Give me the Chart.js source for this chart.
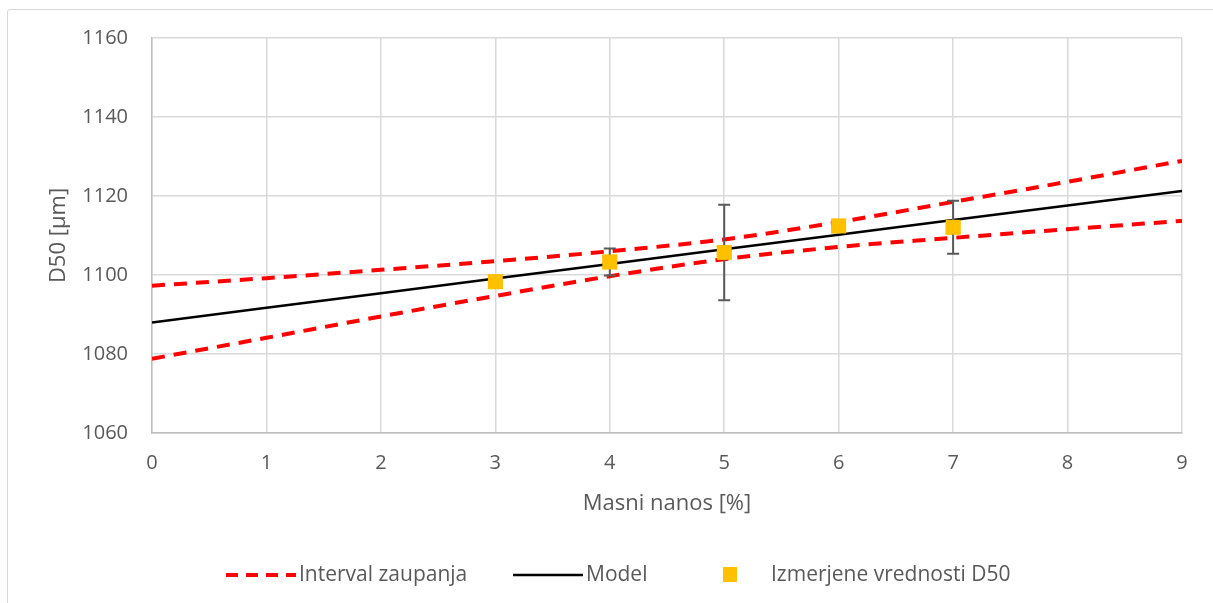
<!DOCTYPE html>
<html>
<head>
<meta charset="utf-8">
<script src="https://cdn.jsdelivr.net/npm/chart.js@4/dist/chart.umd.min.js"></script>
<style>
  html, body { margin: 0; padding: 0; background: #fff; }
  #wrap { position: relative; width: 1213px; height: 603px; }
  #frame { position: absolute; left: 7px; top: 9px; width: 1220px; height: 620px;
           border: 1.5px solid #d9d9d9; border-radius: 3px; box-sizing: border-box; }
  canvas { position: absolute; left: 0; top: 0; }
</style>
</head>
<body>
<div id="wrap">
  <div id="frame"></div>
  <canvas id="d50Chart" width="1213" height="603"></canvas>
</div>
<script>
// Masni nanos [%] na x osi
const xValues = [0, 1, 2, 3, 4, 5, 6, 7, 8, 9]
const modelValues = [1088.0, 1091.7, 1095.4, 1099.1, 1102.8, 1106.5, 1110.2, 1113.9, 1117.6, 1121.3]
const upperValues = [1097.3, 1099.2, 1101.3, 1103.5, 1106.0, 1109.0, 1113.4, 1118.5, 1123.6, 1128.9]
const lowerValues = [1078.8, 1084.1, 1089.5, 1094.7, 1099.7, 1104.0, 1107.1, 1109.4, 1111.6, 1113.7]

// izmerjene vrednosti D50 in napake
const measuredX = [3, 4, 5, 6, 7]
const measuredY = [1098.3, 1103.3, 1105.7, 1112.4, 1112.1]
const measuredErr = [0, 3.4, 12.1, 1.2, 6.7]

const yTicks = [1060, 1080, 1100, 1120, 1140, 1160]

const FONT = "'Open Sans', 'Noto Sans', sans-serif"
const TEXT = '#595959'

const toPoints = (xs, ys) => xs.map((x, i) => ({ x: x, y: ys[i] }))

// napake (error bars) narisane preko skal
const errorBars = {
  id: 'errorBars',
  afterDatasetsDraw(chart) {
    const ctx = chart.ctx
    const xs = chart.scales.x
    const ys = chart.scales.y
    ctx.save()
    ctx.strokeStyle = '#595959'
    ctx.lineWidth = 2
    measuredX.forEach((x, i) => {
      if (!measuredErr[i]) return
      const px = xs.getPixelForValue(x)
      const top = ys.getPixelForValue(measuredY[i] + measuredErr[i])
      const bot = ys.getPixelForValue(measuredY[i] - measuredErr[i])
      ctx.beginPath()
      ctx.moveTo(px, top); ctx.lineTo(px, bot)
      ctx.moveTo(px - 6, top); ctx.lineTo(px + 6, top)
      ctx.moveTo(px - 6, bot); ctx.lineTo(px + 6, bot)
      ctx.stroke()
    })
    ctx.restore()
    // kvadratki nad napakami
    chart.getDatasetMeta(3).controller.draw()
  }
}

// legenda spodaj
const bottomLegend = {
  id: 'bottomLegend',
  afterDraw(chart) {
    const ctx = chart.ctx
    const y = 575
    ctx.save()
    ctx.font = '21px ' + FONT
    ctx.fillStyle = TEXT
    ctx.textBaseline = 'middle'

    ctx.strokeStyle = '#ff0000'
    ctx.lineWidth = 4
    ctx.setLineDash([12, 8])
    ctx.beginPath(); ctx.moveTo(226, y); ctx.lineTo(296, y); ctx.stroke()
    ctx.setLineDash([])
    ctx.fillText('Interval zaupanja', 299, y)

    ctx.strokeStyle = '#000'
    ctx.lineWidth = 2.5
    ctx.beginPath(); ctx.moveTo(513, y); ctx.lineTo(583, y); ctx.stroke()
    ctx.fillText('Model', 586, y)

    ctx.fillStyle = '#ffc000'
    ctx.fillRect(723, y - 8, 14, 15)
    ctx.fillStyle = TEXT
    ctx.fillText('Izmerjene vrednosti D50', 771, y)
    ctx.restore()
  }
}

new Chart(document.getElementById('d50Chart').getContext('2d'), {
  type: 'scatter',
  data: {
    datasets: [
      {
        label: 'Interval zaupanja',
        type: 'line',
        data: toPoints(xValues, upperValues),
        borderColor: '#ff0000',
        borderWidth: 4,
        borderDash: [13, 9],
        pointRadius: 0,
        cubicInterpolationMode: 'monotone',
        fill: false
      },
      {
        label: 'Interval zaupanja spodnji',
        type: 'line',
        data: toPoints(xValues, lowerValues),
        borderColor: '#ff0000',
        borderWidth: 4,
        borderDash: [13, 9],
        pointRadius: 0,
        cubicInterpolationMode: 'monotone',
        fill: false
      },
      {
        label: 'Model',
        type: 'line',
        data: toPoints(xValues, modelValues),
        borderColor: '#000000',
        borderWidth: 2.5,
        pointRadius: 0,
        fill: false
      },
      {
        label: 'Izmerjene vrednosti D50',
        data: toPoints(measuredX, measuredY),
        backgroundColor: '#ffc000',
        borderColor: '#ffc000',
        borderWidth: 0,
        pointStyle: 'rect',
        pointRadius: 10.5
      }
    ]
  },
  options: {
    responsive: false,
    animation: false,
    layout: { padding: { left: 38, top: 38, right: 31, bottom: 83 } },
    scales: {
      x: {
        type: 'linear',
        min: 0,
        max: 9,
        ticks: { stepSize: 1, padding: 18, color: TEXT, font: { family: FONT, size: 20 },
                 callback: (v) => String(v) },
        grid: { color: '#d9d9d9', lineWidth: 1.5, drawTicks: false },
        border: { color: '#bfbfbf', width: 1.5 },
        title: {
          display: true,
          text: 'Masni nanos [%]',
          color: TEXT,
          font: { family: FONT, size: 22 },
          padding: { top: 0, bottom: 3 }
        },
        afterFit: (scale) => { scale.height = 87 }
      },
      y: {
        min: 1060,
        max: 1160,
        afterBuildTicks: (scale) => { scale.ticks = yTicks.map(v => ({ value: v })) },
        ticks: { padding: 24, color: TEXT, font: { family: FONT, size: 20 },
                 callback: (v) => String(v) },
        grid: { color: '#d9d9d9', lineWidth: 1.5, drawTicks: false },
        border: { color: '#bfbfbf', width: 1.5 },
        title: {
          display: true,
          text: 'D50 [µm]',
          color: TEXT,
          font: { family: FONT, size: 22 },
          padding: { top: 8, bottom: 0 }
        },
        afterFit: (scale) => { scale.width = 114 }
      }
    },
    plugins: {
      legend: { display: false },
      tooltip: { enabled: false }
    }
  },
  plugins: [errorBars, bottomLegend]
})
</script>
</body>
</html>
